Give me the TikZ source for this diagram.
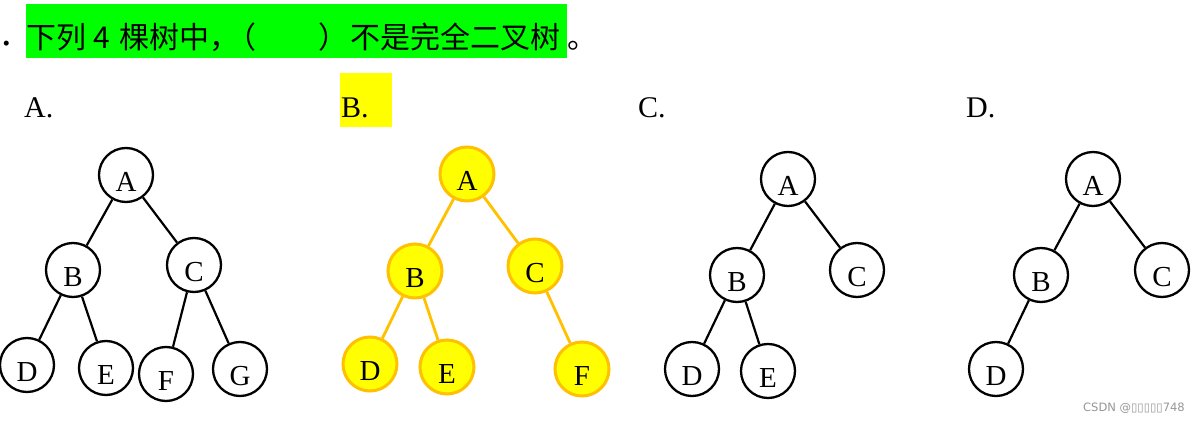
\documentclass[tikz,border=0pt]{standalone}
\usepackage{fontspec}
\setmainfont{Liberation Serif}
\newfontfamily\cjk{Noto Sans CJK SC}
\newfontfamily\wmfont{DejaVu Sans}
\definecolor{hlgreen}{RGB}{0,255,0}
\definecolor{hlyellow}{RGB}{255,255,0}
\definecolor{orangeY}{RGB}{255,192,0}
\definecolor{wmgray}{RGB}{150,150,150}
\begin{document}
\begin{tikzpicture}[x=1pt,y=-1pt,
  tnode/.style={circle, draw=black, line width=2.3pt, minimum size=54pt, inner sep=0pt,
    text height=33pt, text depth=0pt, font=\fontsize{29}{29}\selectfont},
  ynode/.style={tnode, draw=orangeY, fill=hlyellow, line width=3pt},
  bedge/.style={line width=2.2pt, draw=black},
  yedge/.style={line width=2.8pt, draw=orangeY},
  title/.style={inner sep=0pt, anchor=base west, font=\cjk\fontsize{30}{30}\selectfont},
  optlabel/.style={inner sep=0pt, anchor=base west, font=\fontsize{30}{30}\selectfont}]
\useasboundingbox (0,0) rectangle (1197,422);
% title
\fill[hlgreen] (26,4) rectangle (567,58);
\node[optlabel, font=\fontsize{42}{42}\selectfont] (dot) at (1,46) {.};
\node[title] (t1) at (26,49) {下列};
\node[title, anchor=base] (t2) at (101.5,49) {4};
\node[title] (t3) at (119,49) {棵树中，};
\node[title] (t4) at (226,49) {（};
\node[title] (t5) at (318,49) {）};
\node[title] (t6) at (350,49) {不是完全二叉树};
\node[title] (t7) at (567,49) {。};
% option labels
\fill[hlyellow] (340,73) rectangle (392,127);
\node[optlabel] (la) at (24,118) {A.};
\node[optlabel] (lb) at (341,118) {B.};
\node[optlabel] (lc) at (638,118) {C.};
\node[optlabel] (ld) at (966,118) {D.};
% tree A
\node[tnode] (aA) at (126,175) {A};
\node[tnode] (aB) at (73,270) {B};
\node[tnode] (aC) at (194,265) {C};
\node[tnode] (aD) at (27,365) {D};
\node[tnode] (aE) at (106,368) {E};
\node[tnode] (aF) at (166,374) {F};
\node[tnode] (aG) at (240,369) {G};
\draw[bedge] (aA) -- (aB);
\draw[bedge] (aA) -- (aC);
\draw[bedge] (aB) -- (aD);
\draw[bedge] (aB) -- (aE);
\draw[bedge] (aC) -- (aF);
\draw[bedge] (aC) -- (aG);
% tree B
\node[ynode] (bA) at (467,174) {A};
\node[ynode] (bB) at (415,271) {B};
\node[ynode] (bC) at (535,266) {C};
\node[ynode] (bD) at (370,364) {D};
\node[ynode] (bE) at (447,367) {E};
\node[ynode] (bF) at (582,369) {F};
\draw[yedge] (bA) -- (bB);
\draw[yedge] (bA) -- (bC);
\draw[yedge] (bB) -- (bD);
\draw[yedge] (bB) -- (bE);
\draw[yedge] (bC) -- (bF);
% tree C
\node[tnode] (cA) at (788,179) {A};
\node[tnode] (cB) at (737,275) {B};
\node[tnode] (cC) at (857,270) {C};
\node[tnode] (cD) at (692,369) {D};
\node[tnode] (cE) at (768,371) {E};
\draw[bedge] (cA) -- (cB);
\draw[bedge] (cA) -- (cC);
\draw[bedge] (cB) -- (cD);
\draw[bedge] (cB) -- (cE);
% tree D
\node[tnode] (dA) at (1093,179) {A};
\node[tnode] (dB) at (1041,275) {B};
\node[tnode] (dC) at (1162,270) {C};
\node[tnode] (dD) at (996,369) {D};
\draw[bedge] (dA) -- (dB);
\draw[bedge] (dA) -- (dC);
\draw[bedge] (dB) -- (dD);
% watermark
\node[inner sep=0pt, anchor=base west, text=wmgray, font=\wmfont\fontsize{11.5}{11.5}\selectfont] (wm) at (1083,411) {CSDN @▯▯▯▯▯748};
\end{tikzpicture}
\end{document}
